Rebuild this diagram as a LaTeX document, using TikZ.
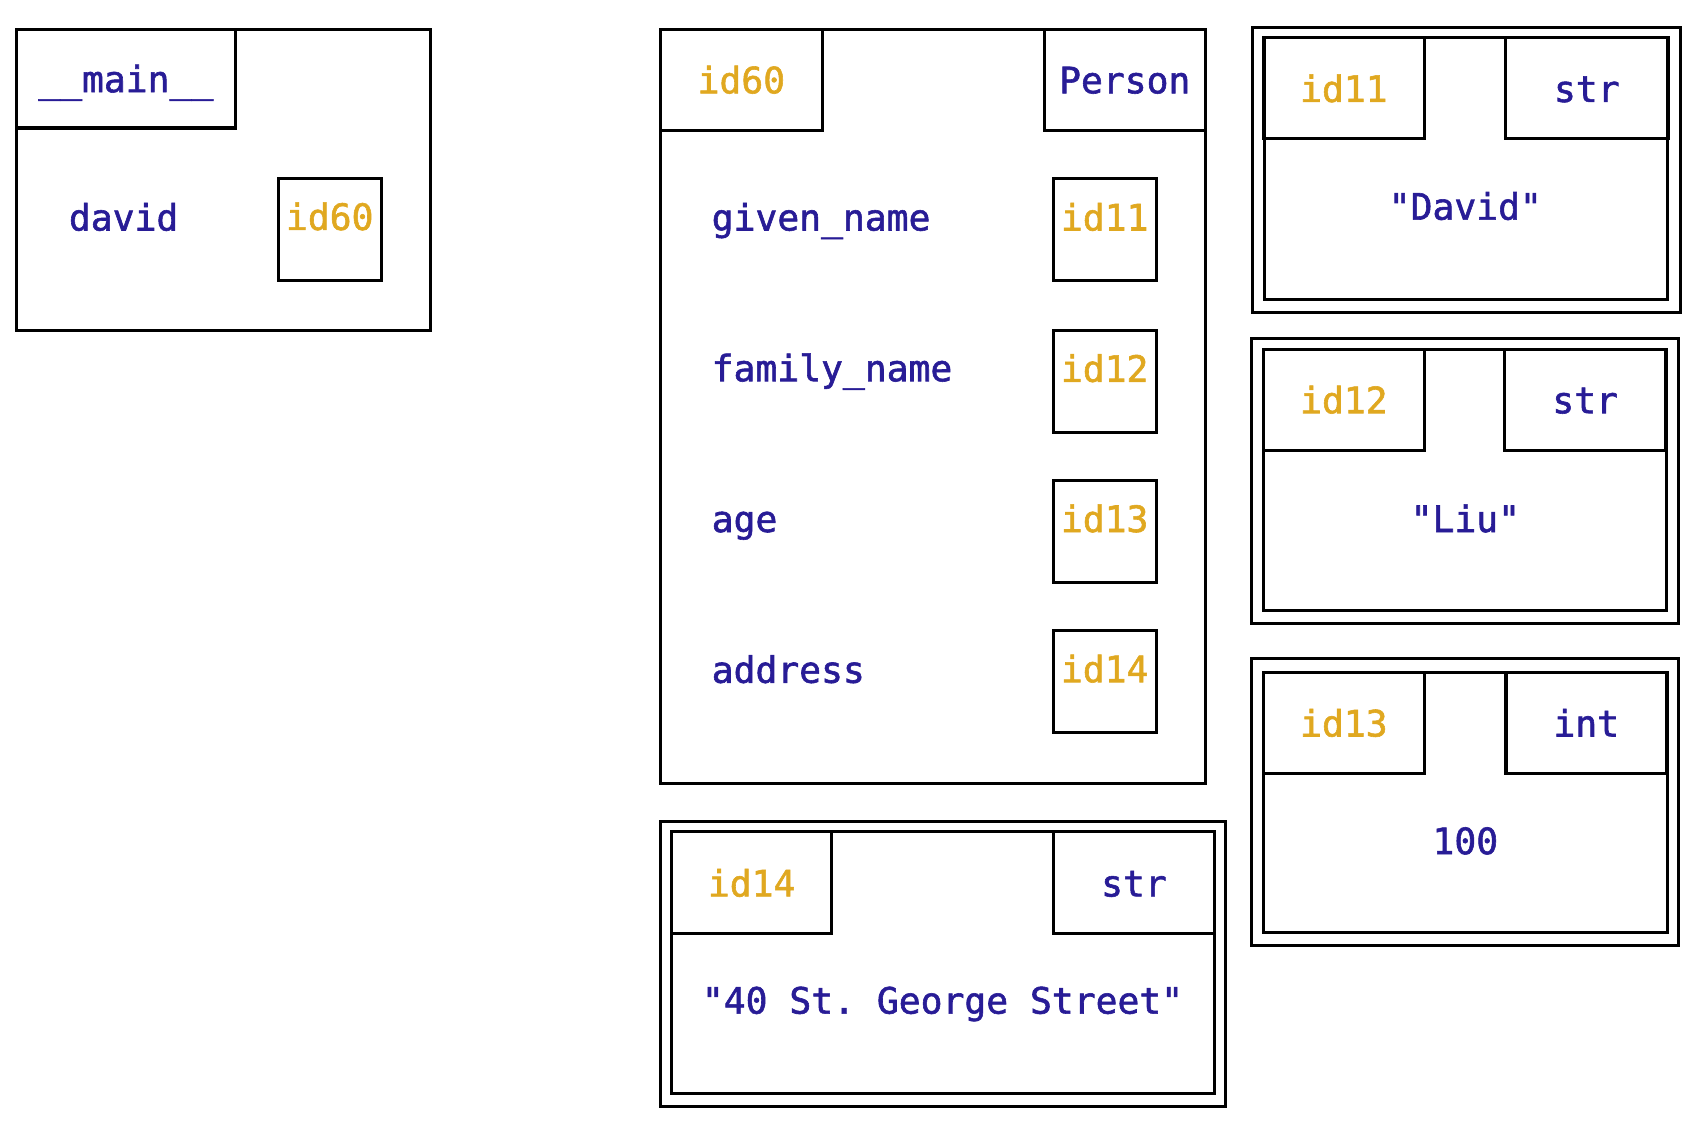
\documentclass[tikz,border=0pt]{standalone}
\usepackage{fontspec}
\newfontfamily\codefont[FakeBold=1.6]{DejaVu Sans Mono}
\usepackage{xcolor}
\definecolor{idgold}{RGB}{224,168,32}
\definecolor{pyblue}{RGB}{40,28,150}
\frenchspacing

\tikzset{
  box/.style={draw,line width=2.8pt,inner sep=0pt,rectangle},
  hdr/.style={box,minimum width=148pt,minimum height=93pt},
  refbox/.style={box,minimum width=95pt,minimum height=94pt},
  outerbox/.style={box,minimum width=394pt,minimum height=263pt},
  innerbox/.style={box,minimum width=372pt,minimum height=241pt},
  code/.style={font=\codefont\fontsize{33.5pt}{40pt}\selectfont,inner sep=0pt,text height=25pt,text depth=0pt},
  idtxt/.style={code,text=idgold},
  nametxt/.style={code,text=pyblue}
}

\begin{document}
\begin{tikzpicture}[x=1pt,y=-1pt]
    \useasboundingbox (0,0) rectangle (1560,1043);

    % __main__ frame
    \node[box,minimum width=382pt,minimum height=278pt] (mainframe) at (206,166) {};
    \node[box,minimum width=202pt,minimum height=91pt,nametxt] (mainhdr) at (116,72.5) {\_\_main\_\_};
    \node[nametxt] (david) at (114,200) {david};
    \node[refbox] (ref60) at (304,211.5) {};
    \node[idtxt] (ref60txt) at ([yshift=12pt]ref60.center) {id60};

    % Person object
    \node[box,minimum width=502pt,minimum height=695pt] (person) at (860,374.5) {};
    \node[hdr,minimum width=149pt,idtxt] (personid) at (683.5,73.5) {id60};
    \node[hdr,nametxt] (persontype) at (1037,73.5) {Person};

    \node[nametxt,anchor=west] (given) at (656,200) {given\_name};
    \node[refbox] (ref11) at (1018.5,212) {};
    \node[idtxt] (ref11txt) at ([yshift=12pt]ref11.center) {id11};

    \node[nametxt,anchor=west] (family) at (656,339) {family\_name};
    \node[refbox] (ref12) at (1018.5,351.5) {};
    \node[idtxt] (ref12txt) at ([yshift=12pt]ref12.center) {id12};

    \node[nametxt,anchor=west] (age) at (656,478) {age};
    \node[refbox] (ref13) at (1018.5,490) {};
    \node[idtxt] (ref13txt) at ([yshift=12pt]ref13.center) {id13};

    \node[nametxt,anchor=west] (address) at (656,617) {address};
    \node[refbox] (ref14) at (1018.5,628.5) {};
    \node[idtxt] (ref14txt) at ([yshift=12pt]ref14.center) {id14};

    % id11 str
    \node[outerbox] (obj11) at (1352,156.5) {};
    \node[innerbox] (in11) at (1351.5,155.5) {};
    \node[hdr,idtxt] (id11) at (1239,81.5) {id11};
    \node[hdr,minimum width=150pt,nametxt] (type11) at (1463,81.5) {str};
    \node[nametxt] (val11) at (1351,190) {"David"};

    % id12 str
    \node[outerbox] (obj12) at (1350.5,443.5) {};
    \node[innerbox] (in12) at (1350.5,442.5) {};
    \node[hdr,idtxt] (id12) at (1239,368.5) {id12};
    \node[hdr,nametxt] (type12) at (1461.5,368.5) {str};
    \node[nametxt] (val12) at (1351,478) {"Liu"};

    % id13 int
    \node[outerbox,minimum height=265pt] (obj13) at (1350.5,739.5) {};
    \node[innerbox,minimum height=240pt] (in13) at (1351,740) {};
    \node[hdr,idtxt] (id13) at (1239,666.5) {id13};
    \node[hdr,nametxt] (type13) at (1462.5,666.5) {int};
    \node[nametxt] (val13) at (1351,775) {100};

    % id14 str
    \node[box,minimum width=521pt,minimum height=263pt] (obj14) at (869.5,888.5) {};
    \node[box,minimum width=501pt,minimum height=241pt] (in14) at (869.5,887.5) {};
    \node[hdr,minimum height=94pt,idtxt] (id14) at (693,814) {id14};
    \node[hdr,minimum width=149pt,minimum height=94pt,nametxt] (type14) at (1045.5,814) {str};
    \node[nametxt] (val14) at (869,922) {"40 St. George Street"};

\end{tikzpicture}
\end{document}
